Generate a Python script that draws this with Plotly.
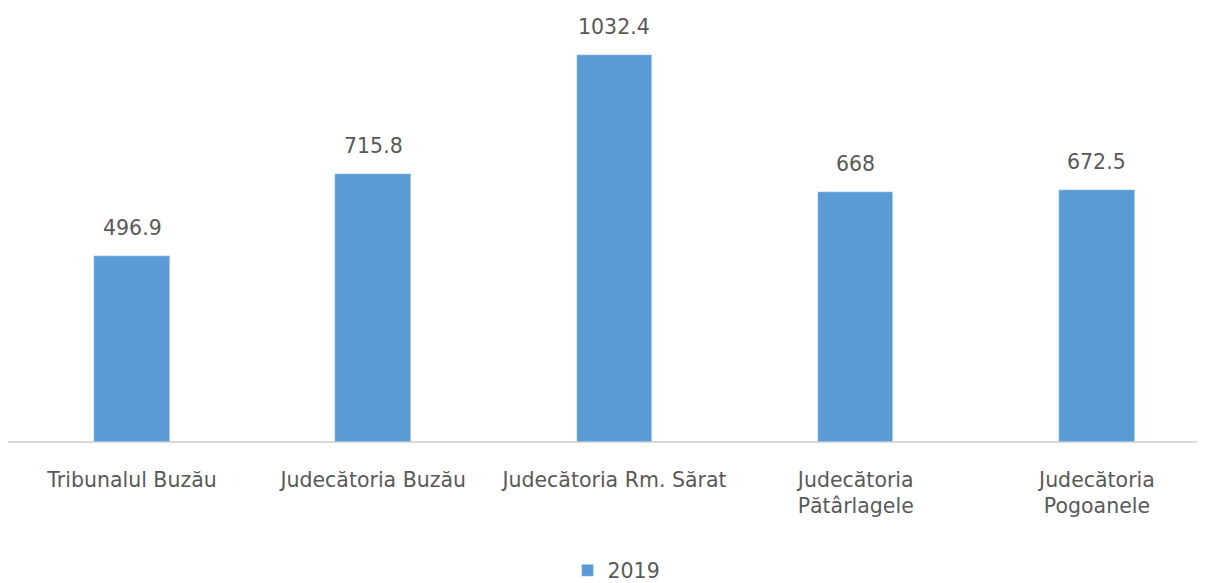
import plotly.graph_objects as go

categories = ["Tribunalul Buzău", "Judecătoria Buzău", "Judecătoria Rm. Sărat",
              "Judecătoria<br>Pătârlagele", "Judecătoria<br>Pogoanele"]
values_2019 = [496.9, 715.8, 1032.4, 668, 672.5]
value_labels = ["496.9", "715.8", "1032.4", "668", "672.5"]
series_name = "2019"

FONT = "'DejaVu Sans', sans-serif"
GRAY = "#595959"
FS = 20.5

fig = go.Figure()
fig.add_trace(go.Bar(
    x=list(range(len(categories))), y=values_2019, name=series_name,
    marker_color="#5b9bd5", width=0.313, showlegend=True,
))
for i, (v, t) in enumerate(zip(values_2019, value_labels)):
    fig.add_annotation(x=i, y=v, text=t, showarrow=False, yanchor="bottom",
                       yshift=14, font=dict(family=FONT, size=FS, color=GRAY))

fig.update_layout(
    width=1205, height=583,
    margin=dict(l=0, r=0, t=22, b=147),
    plot_bgcolor="white", paper_bgcolor="white",
    xaxis=dict(tickmode="array", tickvals=list(range(len(categories))),
               ticktext=categories, range=[-0.514, 4.481],
               showgrid=False, zeroline=False, showline=False,
               ticklabelstandoff=23,
               tickfont=dict(family=FONT, size=FS, color=GRAY), ticklen=0),
    yaxis=dict(range=[0, 1100], showticklabels=False, showgrid=False,
               zeroline=True, zerolinecolor="#d9d9d9", zerolinewidth=1.5,
               showline=False),
    legend=dict(orientation="h", x=0.505, xanchor="center", y=-0.312, yanchor="middle",
                font=dict(family=FONT, size=FS, color=GRAY), itemwidth=30),
    bargap=0,
)
fig.write_html("out.html")
